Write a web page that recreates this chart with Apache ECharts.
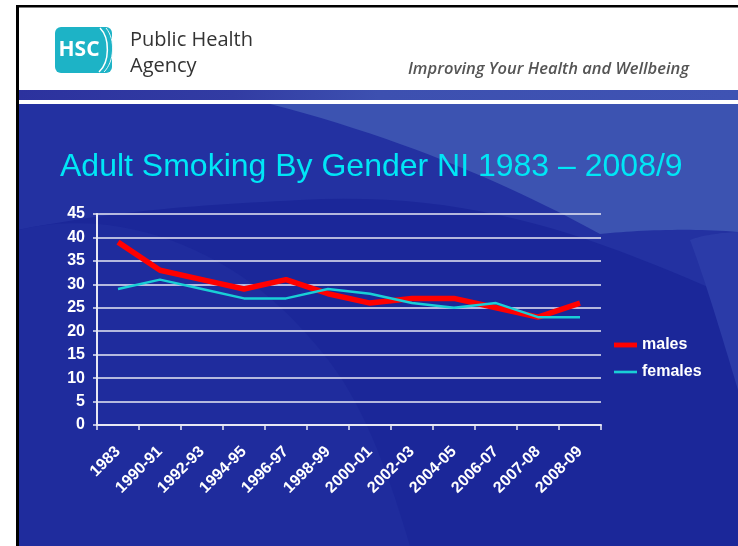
<!DOCTYPE html>
<html>
<head>
<meta charset="utf-8">
<title>Adult Smoking By Gender NI 1983 – 2008/9</title>
<script src="https://cdn.jsdelivr.net/npm/echarts@6/dist/echarts.min.js"></script>
<style>
  html, body { margin: 0; padding: 0; background: #ffffff; }
  #chart { width: 738px; height: 546px; }
</style>
</head>
<body>
<div id="chart"></div>
<script>
// Survey years
const categories = ['1983', '1990-91', '1992-93', '1994-95', '1996-97', '1998-99',
  '2000-01', '2002-03', '2004-05', '2006-07', '2007-08', '2008-09'];

// Percentage of adults who smoke
const males   = [39, 33, 31, 29, 31, 28, 26, 27, 27, 25, 23, 26];
const females = [29, 31, 29, 27, 27, 29, 28, 26, 25, 26, 23, 23];

// Value axis ticks
const yMin = 0;
const yMax = 45;
const yStep = 5;

// Turn a simple outline (points and cubic curves) into polygon points
function outline(parts) {
  const pts = [];
  let cur = null;
  parts.forEach(function (p) {
    if (p.length === 2) { pts.push(p); cur = p; return; }
    const [c1x, c1y, c2x, c2y, ex, ey] = p;
    for (let i = 1; i <= 24; i++) {
      const t = i / 24, u = 1 - t;
      pts.push([
        u * u * u * cur[0] + 3 * u * u * t * c1x + 3 * u * t * t * c2x + t * t * t * ex,
        u * u * u * cur[1] + 3 * u * u * t * c1y + 3 * u * t * t * c2y + t * t * t * ey
      ]);
    }
    cur = [ex, ey];
  });
  return pts;
}

function poly(z, fill, parts) {
  return { type: 'polygon', z: z, silent: true, shape: { points: outline(parts) }, style: { fill: fill } };
}

const chart = echarts.init(document.getElementById('chart'), null, { renderer: 'canvas' });

// Slide decoration: frame, header, bands and background swooshes
const slideGraphics = [
  { type: 'rect', z: -100, silent: true, shape: { x: 18, y: 104, width: 720, height: 442 }, style: { fill: '#1b2799' } },
  poly(-99, '#2331a1', [[18, 104], [738, 104], [738, 300], [600, 240, 480, 190, 300, 200], [200, 205, 120, 210, 18, 230]]),
  poly(-99, '#1f2c9d', [[18, 230], [120, 205, 230, 250, 300, 327], [340, 370, 370, 410, 410, 546], [18, 546]]),
  poly(-98, '#3c53b1', [[270, 104], [738, 104], [738, 232], [690, 228, 640, 230, 600, 234], [520, 190, 410, 140, 270, 104]]),
  poly(-98, '#2b3ba8', [[738, 232], [715, 233, 700, 236, 690, 240], [705, 280, 720, 330, 738, 390]]),
  { type: 'rect', z: -97, silent: true, shape: { x: 18, y: 7, width: 720, height: 83 }, style: { fill: '#ffffff' } },
  { type: 'rect', z: -97, silent: true, shape: { x: 18, y: 90, width: 720, height: 10 },
    style: { fill: new echarts.graphic.LinearGradient(0, 0, 1, 0, [
      { offset: 0, color: '#2c329e' }, { offset: 0.3, color: '#323ca3' }, { offset: 0.5, color: '#3d50b0' }, { offset: 1, color: '#3f53b3' }]) } },
  { type: 'rect', z: -97, silent: true, shape: { x: 18, y: 100, width: 720, height: 4 }, style: { fill: '#ffffff' } },
  { type: 'rect', z: -96, silent: true, shape: { x: 16, y: 5, width: 722, height: 2.5 }, style: { fill: '#000000' } },
  { type: 'rect', z: -96, silent: true, shape: { x: 16, y: 5, width: 3, height: 541 }, style: { fill: '#000000' } },
  // HSC logo
  { type: 'rect', z: -95, silent: true, shape: { x: 55, y: 27, width: 57, height: 46, r: 6 }, style: { fill: '#1db3c6' } },
  { type: 'bezierCurve', z: -94, silent: true, shape: { x1: 100, y1: 28, cpx1: 110, cpy1: 38, cpx2: 110, cpy2: 62, x2: 99, y2: 72 }, style: { stroke: '#ffffff', lineWidth: 1.5, fill: null } },
  { type: 'bezierCurve', z: -94, silent: true, shape: { x1: 106, y1: 28, cpx1: 116, cpy1: 40, cpx2: 114, cpy2: 62, x2: 104, y2: 72 }, style: { stroke: '#e6f7fa', lineWidth: 1, fill: null } },
  { type: 'text', z: -94, silent: true, style: { x: 79, y: 50, text: 'HSC', fill: '#ffffff', font: 'bold 21px "Open Sans", sans-serif', textAlign: 'center', textVerticalAlign: 'middle' } },
  { type: 'text', z: -94, silent: true, style: { x: 130, y: 40, text: 'Public Health', fill: '#333333', font: '20px "Open Sans", sans-serif', textVerticalAlign: 'middle' } },
  { type: 'text', z: -94, silent: true, style: { x: 130, y: 66, text: 'Agency', fill: '#333333', font: '20px "Open Sans", sans-serif', textVerticalAlign: 'middle' } },
  { type: 'text', z: -94, silent: true, style: { x: 408, y: 69, text: 'Improving Your Health and Wellbeing', fill: '#555555', font: 'italic 600 16.5px "Open Sans", sans-serif', textVerticalAlign: 'middle' } },
  // slide title
  { type: 'text', z: -94, silent: true, style: { x: 60, y: 167, text: 'Adult Smoking By Gender NI 1983 \u2013 2008/9', fill: '#00e6f6', font: '32px "Liberation Sans", Arial, sans-serif', textVerticalAlign: 'middle' } }
];

const labelFont = '"Liberation Sans", Arial, sans-serif';

chart.setOption({
  backgroundColor: '#ffffff',
  animation: false,
  graphic: slideGraphics,
  grid: { left: 97, right: 137, top: 214, bottom: 121, containLabel: false },
  legend: {
    orient: 'vertical',
    left: 609,
    top: 332,
    itemWidth: 23,
    itemHeight: 14,
    itemGap: 11,
    textStyle: { color: '#ffffff', fontWeight: 'bold', fontSize: 16, fontFamily: labelFont },
    data: [
      { name: 'males', icon: 'path://M0,0H26V5.5H0Z' },
      { name: 'females', icon: 'path://M0,0H26V3H0Z' }
    ]
  },
  xAxis: {
    type: 'category',
    data: categories,
    boundaryGap: true,
    axisLine: { lineStyle: { color: '#e8e8f4', width: 2 } },
    axisTick: { show: true, length: 5, lineStyle: { color: '#e8e8f4', width: 1.5 } },
    axisLabel: { color: '#ffffff', fontWeight: 'bold', fontSize: 16, fontFamily: labelFont, rotate: 45, margin: 24, interval: 0 },
    splitLine: { show: false }
  },
  yAxis: {
    type: 'value',
    min: yMin,
    max: yMax,
    interval: yStep,
    axisLine: { show: true, lineStyle: { color: '#e8e8f4', width: 2 } },
    axisTick: { show: true, length: 4, lineStyle: { color: '#e8e8f4', width: 1.5 } },
    axisLabel: { color: '#ffffff', fontWeight: 'bold', fontSize: 16, fontFamily: labelFont, margin: 12 },
    splitLine: { show: true, lineStyle: { color: '#e8e8f4', width: 1.5 } }
  },
  series: [
    {
      name: 'males', type: 'line', data: males, symbol: 'none',
      lineStyle: { color: '#ff0000', width: 5.5 }, itemStyle: { color: '#ff0000' }, z: 3
    },
    {
      name: 'females', type: 'line', data: females, symbol: 'none',
      lineStyle: { color: '#19cfd6', width: 2.5 }, itemStyle: { color: '#19cfd6' }, z: 4
    }
  ]
});
</script>
</body>
</html>
